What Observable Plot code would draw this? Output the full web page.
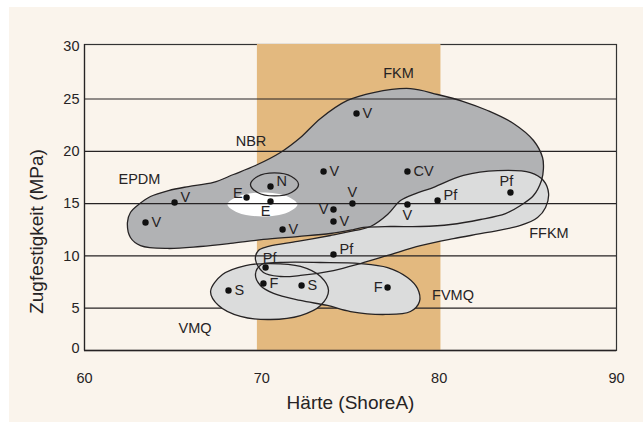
<!DOCTYPE html>
<html><head><meta charset="utf-8">
<script src="https://cdn.jsdelivr.net/npm/d3@7"></script>
<script src="https://cdn.jsdelivr.net/npm/@observablehq/plot@0.6"></script>
<style>
html,body{margin:0;padding:0;background:#fff;}
#chart svg{display:block; box-shadow: inset 9px 7px 0 0 #fff;}
</style></head><body><div id="chart"></div>
<script>
// ---- axes ----
const xTicks = [60, 70, 80, 90];
const yTicks = [5, 10, 15, 20, 25, 30];
const yBaseLabel = "0";                  // label printed at the (compressed) bottom edge
const gridValues = [5, 10, 15, 20, 25];
const haerteDomain = [60, 90];
const zugDomain = [0.956, 30.21];
const bandHaerte = [69.75, 80.1];        // highlighted hardness range

// ---- region outlines [Härte, Zugfestigkeit] ----
const fkmOutline = [[62.42,13.19],[62.59,14.15],[63.05,14.91],[63.72,15.68],[64.74,16.25],[65.86,16.63],[67.27,17.02],[68.40,17.78],[69.64,18.64],[71.05,19.89],[72.18,21.32],[73.31,23.14],[74.83,24.86],[76.30,25.62],[78.38,26.00],[79.91,25.43],[81.37,24.76],[82.73,23.90],[84.19,22.66],[85.32,21.03],[85.83,19.41],[85.88,18.36],[85.77,17.21],[85.32,15.77],[84.59,14.82],[83.74,14.05],[82.33,13.48],[80.64,13.00],[78.95,12.81],[77.26,12.81],[75.73,12.72],[75.17,12.52],[73.87,12.14],[72.01,11.85],[70.09,11.57],[68.23,11.19],[66.54,10.90],[64.68,10.71],[63.16,10.99],[62.59,11.76]];
const ffkmOutline = [[69.64,9.66],[69.81,10.52],[70.38,10.90],[72.01,11.38],[73.87,11.95],[75.28,12.43],[76.13,12.81],[77.09,13.96],[77.82,15.30],[78.67,15.96],[79.51,16.44],[81.37,17.69],[83.29,18.16],[85.15,17.97],[85.88,17.21],[86.17,15.96],[86.00,14.63],[85.55,13.67],[84.59,12.91],[82.73,12.24],[80.81,11.66],[78.95,10.99],[77.09,10.04],[75.56,9.27],[74.04,8.60],[72.18,8.13],[71.05,8.03],[70.09,8.41]];
const vmqOutline = [[67.11,6.60],[67.78,8.22],[69.08,9.08],[70.49,9.27],[72.18,8.99],[73.31,8.03],[73.76,6.69],[73.31,5.26],[72.18,4.30],[70.49,3.92],[68.80,4.21],[67.56,5.26]];
const fvmqOutline = [[69.64,8.22],[69.98,9.18],[71.05,9.37],[73.31,9.37],[75.56,9.27],[77.09,8.89],[78.21,7.94],[78.78,6.88],[78.89,5.64],[78.38,4.68],[76.97,4.40],[75.00,4.68],[73.70,5.26],[72.18,5.74],[70.66,6.41],[69.92,7.17]];
const epdmOutline = [[68.06,14.91],[68.63,15.68],[70.04,16.06],[71.45,15.68],[72.01,14.91],[71.45,14.15],[70.04,13.77],[68.63,14.15]];
const nbrOutline = [[69.36,16.83],[69.76,17.59],[70.71,17.93],[71.67,17.59],[72.07,16.83],[71.67,16.06],[70.71,15.73],[69.76,16.06]];

// ---- region names ----
const regionNames = ["FKM", "NBR", "EPDM", "FFKM", "FVMQ", "VMQ"];
const regionHaerte = [77.71, 69.39, 63.10, 86.19, 80.78, 66.23];
const regionZug = [27.48, 20.98, 17.30, 12.19, 6.21, 3.11];

// ---- measured points ----
const pointLabel = ["V","V","E","E","N","V","V","V","V","V","V","CV","V","Pf","Pf","Pf","Pf","F","S","S","F"];
const pointHaerte = [63.44,65.08,69.14,70.49,70.49,71.17,73.48,74.04,74.04,75.11,75.34,78.21,78.21,79.91,84.02,74.04,70.21,70.09,72.24,68.12,77.09];
const pointZug = [13.19,15.11,15.58,15.20,16.63,12.52,18.07,14.44,13.29,15.01,23.61,18.07,14.91,15.30,16.06,10.13,8.89,7.36,7.17,6.69,6.98];
const labelSide = ["r","ru","lu","bl","ru","r","r","l","r","a","r","r","b","ru","al","ru","ar","r","r","r","l"];

const points = pointLabel.map((t, i) => ({t, x: pointHaerte[i], y: pointZug[i], side: labelSide[i]}));
const regions = regionNames.map((t, i) => ({t, x: regionHaerte[i], y: regionZug[i]}));

const placement = {
  r:  {dx: 6,  dy: 0,   textAnchor: "start"},
  ru: {dx: 6,  dy: -5,  textAnchor: "start"},
  l:  {dx: -5, dy: 0,   textAnchor: "end"},
  lu: {dx: -4, dy: -4,  textAnchor: "end"},
  a:  {dx: 0,  dy: -11, textAnchor: "middle"},
  al: {dx: -4, dy: -11, textAnchor: "middle"},
  ar: {dx: 4,  dy: -9,  textAnchor: "middle"},
  b:  {dx: 0,  dy: 11,  textAnchor: "middle"},
  bl: {dx: -5, dy: 10,  textAnchor: "middle"}
};

const ink = "#262324";
const darkGrey = "#b1b2b4";
const lightGrey = "#dbdcdc";
const orange = "#e3b97f";
const paper = "#faf4ec";
const px = d => d[0], py = d => d[1];
const blob = (data, fill) => Plot.line(data, {x: px, y: py, curve: "catmull-rom-closed", fill, stroke: "none"});
const outline = (data) => Plot.line(data, {x: px, y: py, curve: "catmull-rom-closed", fill: "none", stroke: ink, strokeWidth: 1.3});

const chart = Plot.plot({
  width: 643, height: 422,
  marginLeft: 84, marginRight: 27, marginTop: 44, marginBottom: 72,
  x: {domain: haerteDomain, axis: null},
  y: {domain: zugDomain, axis: null},
  style: {background: paper, color: ink, fontFamily: "'Liberation Sans', Arial, Helvetica, sans-serif", fontSize: "14.5px"},
  marks: [
    Plot.frame({stroke: "#333", strokeWidth: 1.2}),
    Plot.rect([bandHaerte], {x1: d => d[0], x2: d => d[1], y1: () => zugDomain[0], y2: () => zugDomain[1], fill: orange}),
    blob(fkmOutline, darkGrey),
    blob(ffkmOutline, lightGrey),
    blob(epdmOutline, "#ffffff"),
    Plot.ruleY(gridValues, {stroke: ink, strokeWidth: 1.2}),
    blob(vmqOutline, lightGrey),
    blob(fvmqOutline, lightGrey),
    outline(fkmOutline),
    outline(ffkmOutline),
    outline(vmqOutline),
    outline(fvmqOutline),
    outline(nbrOutline),
    Plot.ruleY([zugDomain[0]], {stroke: ink, strokeWidth: 1.4}),
    Plot.ruleX([haerteDomain[0]], {stroke: ink, strokeWidth: 1.2}),
    Plot.dot(points, {x: "x", y: "y", r: 3.2, fill: "#111", stroke: "none"}),
    ...Object.keys(placement).map(k => Plot.text(points.filter(d => d.side === k), {x: "x", y: "y", text: "t", ...placement[k]})),
    Plot.text(regions, {x: "x", y: "y", text: "t", textAnchor: "middle"}),
    // tick labels
    Plot.text(xTicks, {x: d => d, text: d => String(d), frameAnchor: "bottom", dy: 28, lineAnchor: "middle", textAnchor: "middle"}),
    Plot.text(yTicks, {y: d => d, text: d => String(d), frameAnchor: "left", dx: -5, textAnchor: "end", lineAnchor: "middle"}),
    Plot.text([yBaseLabel], {text: d => d, frameAnchor: "bottom-left", dx: -5, dy: -2, textAnchor: "end", lineAnchor: "middle"}),
    // axis titles
    Plot.text(["Härte (ShoreA)"], {text: d => d, frameAnchor: "bottom", dy: 58, lineAnchor: "bottom", textAnchor: "middle", fontSize: 19}),
    Plot.text(["Zugfestigkeit (MPa)"], {text: d => d, frameAnchor: "left", dx: -42, dy: 34, rotate: -90, lineAnchor: "bottom", textAnchor: "middle", fontSize: 19})
  ]
});
document.getElementById("chart").appendChild(chart);
</script></body></html>
